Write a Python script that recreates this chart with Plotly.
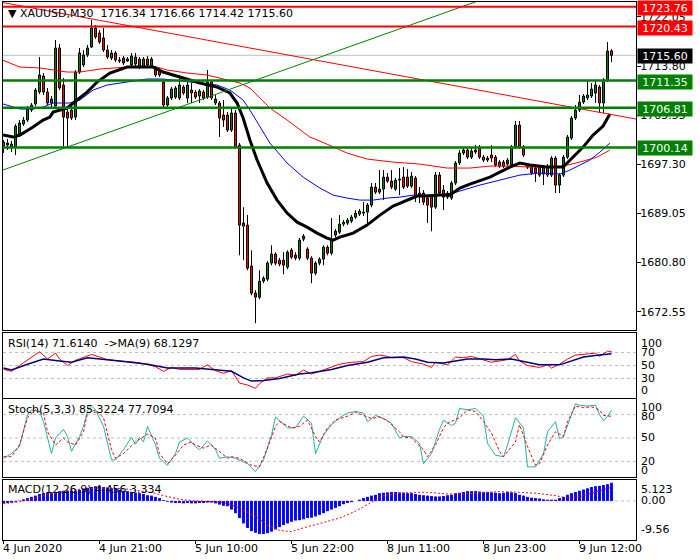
import plotly.graph_objects as go

# ---------------- data ----------------
opens = [1700.36,1700.87,1700.70,1700.19,1702.21,1704.06,1704.73,1706.41,1707.42,1709.43,
1712.12,1709.43,1707.59,1707.08,1716.83,1710.61,1706.07,1706.41,1705.23,1712.79,
1713.97,1715.65,1716.99,1720.19,1719.35,1718.51,1716.49,1715.15,1715.99,1714.81,
1715.15,1714.64,1713.97,1714.14,1714.98,1713.80,1714.98,1713.80,1713.47,1713.13,
1711.11,1707.25,1708.43,1708.59,1708.43,1710.27,1708.43,1709.77,1709.43,1708.76,
1709.43,1708.59,1711.11,1707.59,1707.59,1705.57,1705.57,1703.05,1705.91,1700.53,
1687.43,1687.09,1680.20,1675.67,1674.99,1677.68,1678.02,1680.71,1682.22,1681.21,
1681.21,1680.03,1682.89,1682.05,1681.55,1684.74,1683.06,1681.55,1679.03,1680.71,
1681.38,1683.39,1682.39,1685.41,1685.91,1687.26,1687.43,1687.76,1688.43,1688.94,
1689.11,1689.27,1690.45,1693.47,1692.63,1693.14,1695.15,1694.48,1693.14,1694.65,
1695.15,1695.15,1693.64,1694.99,1692.13,1692.47,1691.63,1691.96,1690.11,1695.49,
1692.97,1691.79,1691.63,1694.15,1697.51,1699.19,1699.69,1698.51,1699.35,1700.19,
1698.51,1698.35,1698.85,1698.51,1697.67,1697.67,1697.34,1697.17,1700.19,1703.89,
1700.19,1697.17,1697.00,1696.67,1696.83,1695.66,1697.00,1695.49,1698.35,1693.81,
1695.49,1698.51,1701.71,1705.07,1706.41,1707.75,1708.43,1708.76,1709.27,1710.27,
1707.59,1711.45,1716.34]
highs = [1701.37,1701.54,1701.20,1704.06,1704.73,1705.23,1707.08,1707.59,1710.11,1715.31,
1712.63,1710.11,1708.76,1718.17,1717.50,1711.79,1707.08,1707.08,1713.13,1716.83,
1716.49,1717.33,1721.53,1720.69,1719.85,1720.19,1717.33,1716.49,1716.32,1715.31,
1715.48,1715.31,1715.99,1715.99,1715.31,1715.31,1715.48,1715.31,1713.80,1713.47,
1711.45,1708.76,1710.27,1710.44,1712.29,1710.61,1711.11,1710.95,1709.77,1709.94,
1709.77,1713.13,1711.45,1708.93,1707.92,1708.09,1706.07,1706.91,1706.41,1700.87,
1690.11,1688.77,1682.89,1676.17,1679.53,1678.52,1681.04,1683.73,1682.55,1681.55,
1682.55,1682.89,1683.23,1682.55,1684.91,1685.58,1683.39,1681.88,1681.04,1681.71,
1683.73,1683.73,1688.27,1686.42,1688.77,1687.93,1688.27,1688.77,1689.61,1689.78,
1690.95,1690.79,1694.15,1694.15,1696.33,1696.33,1695.83,1696.33,1694.99,1696.67,
1696.83,1696.50,1695.99,1695.32,1693.47,1692.97,1691.96,1692.30,1695.99,1695.99,
1693.81,1692.80,1694.48,1697.84,1699.69,1700.03,1700.19,1700.03,1700.53,1700.53,
1698.85,1698.68,1700.53,1698.85,1698.01,1698.01,1698.35,1700.53,1704.56,1704.56,
1700.53,1697.51,1697.34,1697.00,1697.17,1697.17,1697.34,1698.68,1698.68,1695.83,
1698.85,1702.21,1705.40,1707.25,1708.93,1709.10,1711.45,1710.95,1711.45,1710.61,
1711.79,1717.83,1716.66]
lows = [1699.19,1699.69,1699.35,1698.85,1701.87,1703.72,1704.39,1706.07,1707.08,1709.10,
1708.93,1707.25,1706.75,1706.75,1709.77,1700.19,1700.19,1704.73,1704.73,1712.46,
1713.63,1715.31,1716.83,1718.34,1717.50,1716.15,1714.98,1714.81,1714.47,1714.31,
1713.97,1714.47,1713.80,1713.80,1713.30,1713.47,1713.63,1713.47,1711.95,1711.95,
1706.91,1706.91,1708.09,1708.26,1708.09,1708.93,1707.59,1707.59,1708.26,1707.59,
1708.09,1708.26,1708.09,1707.25,1701.87,1703.55,1702.71,1702.71,1699.86,1682.05,
1681.21,1679.53,1675.33,1670.63,1674.66,1677.35,1677.68,1680.37,1680.37,1680.20,
1678.86,1679.70,1681.38,1681.21,1681.21,1684.40,1681.21,1677.35,1678.69,1680.37,
1680.37,1682.05,1682.05,1685.07,1685.58,1686.92,1687.09,1687.43,1688.10,1688.60,
1688.60,1686.92,1690.11,1692.30,1692.30,1691.29,1694.15,1693.14,1692.80,1692.13,
1693.14,1693.31,1693.31,1690.95,1690.79,1690.45,1687.43,1686.08,1689.78,1692.13,
1689.61,1691.46,1691.29,1693.81,1697.17,1698.85,1698.18,1698.18,1699.02,1698.18,
1697.67,1697.67,1697.67,1696.83,1696.67,1696.67,1697.00,1696.83,1699.86,1699.86,
1698.51,1696.50,1695.49,1694.31,1695.15,1693.81,1695.15,1695.15,1692.47,1692.47,
1695.15,1698.18,1701.37,1704.73,1706.07,1707.42,1708.09,1708.43,1707.59,1705.91,
1705.91,1711.11,1714.42]
closes = [1701.03,1700.53,1700.19,1703.72,1704.23,1704.73,1706.75,1707.25,1709.77,1712.29,
1709.43,1707.59,1708.26,1716.83,1710.11,1705.23,1705.07,1705.07,1712.79,1715.99,
1715.65,1716.83,1720.19,1718.67,1717.83,1716.49,1715.31,1715.99,1714.81,1714.64,
1714.31,1714.98,1715.48,1715.31,1713.63,1714.98,1713.97,1714.98,1712.29,1712.29,
1707.25,1708.43,1709.94,1710.11,1710.61,1709.27,1710.61,1709.27,1708.59,1709.60,
1708.43,1711.11,1708.43,1708.26,1705.07,1704.73,1703.05,1705.91,1700.19,1687.09,
1686.92,1679.87,1675.67,1674.99,1677.68,1678.19,1680.71,1682.22,1680.71,1680.54,
1680.37,1682.55,1681.71,1681.55,1684.57,1685.24,1681.55,1679.03,1680.71,1681.38,
1683.39,1682.39,1684.57,1686.08,1687.26,1687.59,1687.93,1688.43,1689.11,1689.44,
1689.27,1690.45,1693.47,1692.63,1693.14,1695.15,1694.48,1693.47,1694.65,1694.82,
1693.47,1693.64,1695.32,1691.79,1692.47,1690.95,1690.45,1690.11,1695.49,1692.47,
1691.79,1692.47,1694.15,1697.51,1699.19,1699.69,1698.51,1699.52,1699.69,1698.51,
1698.01,1698.01,1698.35,1697.17,1697.00,1697.00,1698.01,1700.19,1703.89,1700.19,
1698.85,1696.83,1695.83,1695.83,1695.49,1696.83,1695.49,1698.35,1693.81,1695.49,
1698.51,1701.87,1705.07,1706.41,1707.75,1708.76,1708.93,1709.94,1710.61,1707.59,
1711.45,1716.32,1715.60]

time_tick_bars = [0, 24, 48, 72, 96, 120, 144]
time_tick_labels = ["4 Jun 2020", "4 Jun 21:00", "5 Jun 10:00", "5 Jun 22:00",
                    "8 Jun 11:00", "8 Jun 23:00", "9 Jun 12:00"]
price_ticks = [1672.55, 1680.80, 1689.05, 1697.30, 1705.55, 1713.80, 1722.05]

ma_black_x = [-0.1,2.4,4.1,7.4,9.9,11.6,12.4,15.9,18.4,20.9,23.4,26.6,30.9,37.4,39.9,44.1,49.1,53.4,56.6,
              58.4,59.9,61.6,63.4,65.9,68.4,70.9,73.4,75.9,78.4,80.9,82.4,84.1,87.4,90.9,94.1,97.4,100.9,
              103.4,105.9,109.1,111.6,114.1,116.6,121.6,126.6,129.1,131.6,135.9,139.9,142.4,144.9,147.4,149.9,151.6]
ma_black_y = [1702.21,1701.87,1702.21,1703.55,1704.73,1705.23,1706.07,1706.75,1708.09,1709.43,1711.11,1712.63,
              1713.63,1713.63,1712.79,1711.95,1710.95,1710.27,1709.27,
              1707.59,1705.07,1701.37,1698.01,1694.15,1691.29,1689.11,1687.59,1686.75,1685.75,1684.91,1684.57,
              1685.07,1685.75,1687.09,1688.77,1690.28,1691.29,1691.96,1691.96,1692.13,1692.13,1693.31,1693.98,
              1695.15,1696.83,1697.51,1697.17,1696.83,1696.83,1698.51,1700.19,1702.21,1703.72,1705.74]
ma_blue_x = [-0.9,0.9,4.1,7.4,9.9,12.4,16.6,19.1,22.4,25.9,30.9,35.9,39.9,44.1,49.1,53.4,56.6,59.9,61.6,
             64.1,66.6,70.9,74.9,79.1,82.4,85.9,89.1,92.4,95.9,99.1,102.4,105.9,109.1,112.4,116.6,119.1,
             124.1,129.1,134.1,139.1,141.6,146.6,149.1,151.6]
ma_blue_y = [1707.59,1707.25,1706.58,1706.58,1706.91,1707.59,1707.59,1708.09,1709.77,1710.61,1711.11,1711.62,
             1711.62,1711.28,1710.95,1710.61,1709.77,1708.09,1706.41,1703.55,1700.87,1697.51,1695.15,1693.31,
             1692.13,1691.63,1691.29,1691.29,1691.63,1691.79,1692.13,1692.13,1692.13,1692.47,1693.31,1693.81,
             1694.65,1695.49,1695.83,1695.66,1696.33,1698.01,1699.35,1700.87]
ma_red_x = [-0.9,1.6,4.1,9.1,15.9,19.1,24.1,30.9,38.4,40.9,45.9,50.9,55.9,59.1,61.6,64.1,66.6,70.9,76.6,
            79.1,85.9,90.9,97.4,104.1,110.9,116.6,121.6,126.6,131.6,136.6,139.9,144.1,148.4,151.6]
ma_red_y = [1714.98,1714.31,1713.63,1713.47,1712.79,1712.79,1713.30,1713.63,1713.63,1713.13,1712.63,1712.29,
            1711.45,1710.95,1710.11,1708.43,1706.75,1704.73,1701.87,1701.20,1699.19,1698.18,1697.67,1697.34,
            1696.67,1696.67,1697.00,1697.00,1696.83,1696.83,1697.00,1697.67,1698.51,1699.69]

resist_levels = [1723.76, 1720.43]
support_levels = [1711.35, 1706.81, 1700.14]
bid_price = 1715.60
trend_red_x = [-0.25, 158.1]
trend_red_y = [1724.47, 1704.90]
trend_green_x = [-0.125, 121.0]
trend_green_y = [1696.35, 1725.29]

rsi_x = [0,2,4,6,9,11,13,14,16,18,20,22,24,26,29,33,36,38,40,42,44,47,49,51,53,55,57,59,61,63,64,66,68,71,73,
         75,77,79,82,84,87,90,92,94,96,97,100,102,105,107,108,111,113,115,117,120,122,124,126,128,129,131,134,
         136,137,139,141,143,145,148,149,151,152]
rsi_v = [44,41,50,58,71,60,69,60,50,58,63,67,63,59,57,55,52,48,41,47,44,44,44,51,42,38,42,23,20,15,22,31,31,37,35,
         43,37,41,47,52,55,56,64,66,64,62,62,56,52,47,55,51,63,62,64,59,55,57,59,67,57,50,47,51,46,52,60,66,67,69,
         64,72,71.61]
rsi_ma_x = [0,2,6,10,14,17,21,25,29,36,41,48,54,57,60,62,65,69,74,77,82,86,91,95,100,103,106,110,113,116,120,
            123,127,131,134,139,142,145,149,152]
rsi_ma_v = [46,43,52,60,57,55,62,60,57,52,46,46,43,41,31,26,27,30,37,39,44,50,55,62,63,60,55,54,57,60,60,59,60,
            55,51,51,57,63,66,68.13]

stoch_x = [0,2,4,5,6,7,9,10,12,13,15,16,17,19,20,21,22,23,25,27,28,30,32,33,34,35,36,38,39,41,43,44,46,48,49,
           51,53,54,56,58,59,61,63,65,67,68,71,73,75,77,78,80,82,84,86,88,90,91,93,95,97,99,100,102,104,105,107,
           109,110,112,113,114,116,118,120,121,123,125,126,128,130,131,133,135,136,138,139,140,143,144,146,148,
           149,150,151,152]
stoch_v = [24,30,39,58,80,86,84,71,30,50,61,52,33,52,65,85,91,86,65,22,22,35,51,42,51,45,65,41,24,15,30,45,50,
           39,35,46,35,24,26,24,22,17,7,22,54,77,63,63,78,69,30,54,67,76,82,84,82,71,79,75,69,50,52,52,43,17,30,
           61,73,66,69,88,86,88,78,43,28,26,41,76,63,13,13,30,58,71,49,52,94,92,91,92,80,72,78,85.32]
stoch_sig_x = [0,2,4,6,8,10,11,13,15,16,18,20,21,23,25,27,28,30,33,34,36,38,39,41,43,45,47,48,50,52,54,56,57,
               59,62,64,66,68,69,72,74,76,78,79,81,83,86,88,90,92,94,96,99,100,102,105,106,108,110,111,114,116,
               118,120,122,124,125,128,129,131,133,134,136,138,140,141,143,145,147,149,150,152]
stoch_sig_v = [26,26,41,76,86,82,58,41,50,45,41,58,82,86,76,35,24,30,45,48,55,50,30,17,28,41,45,41,37,41,33,24,
               26,24,15,13,37,65,71,63,65,73,52,45,63,73,78,83,79,75,77,72,58,51,50,35,26,41,63,69,76,86,84,71,
               56,33,26,45,67,39,15,17,41,58,52,71,91,89,90,86,79,77.71]

macd_hist = [-0.6,-0.5,-0.4,-0.2,0.1,0.4,
             0.7,1.0,1.3,1.7,
             1.9,2.0,2.1,2.2,2.4,2.5,2.5,2.5,2.5,2.7,3.0,
             3.2,3.4,3.6,3.6,3.4,3.2,3.1,3.0,2.7,2.5,
             2.4,2.2,2.0,1.9,1.7,1.4,1.3,1.0,0.7,0.2,
             -0.2,-0.4,-0.5,-0.5,-0.6,-0.5,-0.6,-0.6,-0.5,-0.5,-0.4,-0.4,-0.6,-0.9,-1.2,
             -1.3,-2.1,-3.0,-4.2,-5.5,
             -6.6,-7.4,-7.8,-8.1,-8.1,-7.9,
             -7.5,-7.0,-6.4,-5.9,-5.5,-5.1,-4.8,-4.7,-4.5,
             -4.2,-4.1,-3.8,-3.4,-3.0,-2.5,-2.1,-1.7,-1.3,-0.8,
             -0.5,-0.3,0.0,0.3,0.7,
             1.0,1.3,1.5,1.9,2.0,2.1,2.2,2.2,2.1,2.0,
             1.9,1.9,1.7,1.5,1.4,1.3,1.2,1.1,1.1,1.2,
             1.4,1.5,1.9,2.0,2.2,2.4,2.4,2.4,2.3,2.2,
             2.2,2.1,2.0,1.9,2.0,2.2,2.1,1.9,1.5,1.3,
             1.0,0.8,0.7,0.6,0.4,0.3,0.3,0.3,
             0.7,1.0,1.5,1.9,2.2,2.5,2.8,3.1,3.4,3.6,3.7,3.9,4.1,4.456]
macd_sig_x = [0,4,7,10,14,17,21,26,30,34,37,40,44,48,53,56,59,63,66,69,72,75,79,84,88,92,95,99,102,106,111,115,
              120,124,129,133,138,141,144,148,152]
macd_sig_v = [-0.7,-0.2,0.4,1.3,2.1,2.7,3.0,3.2,3.0,2.5,2.1,1.3,0.4,0.0,-0.2,-0.6,-1.7,-3.8,-5.9,-7.2,-7.5,-6.6,
              -5.5,-4.2,-2.5,-0.4,1.3,1.9,2.1,2.1,1.7,1.7,2.1,2.3,2.1,1.9,1.3,0.7,1.0,2.1,3.334]

# ---------------- geometry helpers ----------------
W, H = 700, 560
ML, MR, MT, MB = 3, 64, 2, 20
PW, PH = W - ML - MR, H - MT - MB


def fy(py):
    return (H - MB - py) / PH


def fx(px):
    return (px - ML) / PW


X_RANGE = [-0.125, 158.125]
FONT = "DejaVu Sans"
BULL, BEAR = "#008000", "#FF0000"

idx = list(range(len(opens)))
wick_len = [h - l for h, l in zip(highs, lows)]
body_base = [min(o, c) for o, c in zip(opens, closes)]
body_len = [max(abs(c - o), 0.1) for o, c in zip(opens, closes)]
body_col = [BULL if c >= o else BEAR for o, c in zip(opens, closes)]

fig = go.Figure()
fig.add_trace(go.Bar(x=idx, y=wick_len, base=lows, width=0.25,
                     marker=dict(color="black", line=dict(width=0)), hoverinfo="skip"))
fig.add_trace(go.Bar(x=idx, y=body_len, base=body_base, width=0.5,
                     marker=dict(color=body_col, line=dict(color="black", width=1)), hoverinfo="skip"))
fig.add_trace(go.Scatter(x=ma_red_x, y=ma_red_y, mode="lines", line=dict(color="#FF0000", width=1)))
fig.add_trace(go.Scatter(x=ma_blue_x, y=ma_blue_y, mode="lines", line=dict(color="#0000FF", width=1)))
fig.add_trace(go.Scatter(x=ma_black_x, y=ma_black_y, mode="lines", line=dict(color="black", width=3)))
fig.add_trace(go.Scatter(x=trend_red_x, y=trend_red_y, mode="lines", line=dict(color="#FF0000", width=1)))
fig.add_trace(go.Scatter(x=trend_green_x, y=trend_green_y, mode="lines", line=dict(color="#008000", width=1)))

fig.add_trace(go.Scatter(x=rsi_x, y=rsi_v, mode="lines", line=dict(color="#FF0000", width=1),
                         xaxis="x2", yaxis="y2"))
fig.add_trace(go.Scatter(x=rsi_ma_x, y=rsi_ma_v, mode="lines", line=dict(color="#000080", width=1.5),
                         xaxis="x2", yaxis="y2"))
fig.add_trace(go.Scatter(x=stoch_x, y=stoch_v, mode="lines", line=dict(color="#20B2AA", width=1),
                         xaxis="x3", yaxis="y3"))
fig.add_trace(go.Scatter(x=stoch_sig_x, y=stoch_sig_v, mode="lines",
                         line=dict(color="#FF0000", width=1, dash="3px,2px"), xaxis="x3", yaxis="y3"))
fig.add_trace(go.Bar(x=idx, y=macd_hist, width=0.72, marker=dict(color="#0000FF", line=dict(width=0)),
                     xaxis="x4", yaxis="y4"))
fig.add_trace(go.Scatter(x=macd_sig_x, y=macd_sig_v, mode="lines",
                         line=dict(color="#FF0000", width=1, dash="2px,2px"), xaxis="x4", yaxis="y4"))

common_x = dict(range=X_RANGE, showgrid=False, zeroline=False, showline=True, mirror=True,
                linecolor="black", linewidth=1, showticklabels=False, ticks="")
common_y = dict(showgrid=False, zeroline=False, showline=True, mirror=True, linecolor="black",
                linewidth=1, showticklabels=False, ticks="")

shapes = []
for v in resist_levels:
    shapes.append(dict(type="line", xref="x domain", yref="y", x0=0, x1=1, y0=v, y1=v,
                       line=dict(color="#FF0000", width=2), layer="above"))
shapes.append(dict(type="line", xref="x domain", yref="y", x0=0, x1=1, y0=bid_price, y1=bid_price,
                   line=dict(color="#C0C0C0", width=1), layer="below"))
for v in support_levels:
    shapes.append(dict(type="line", xref="x domain", yref="y", x0=0, x1=1, y0=v, y1=v,
                       line=dict(color="#008000", width=2.5), layer="above"))
for ax, lv in (("2", [70, 50, 30]), ("3", [80, 50, 20]), ("4", [0])):
    for v in lv:
        shapes.append(dict(type="line", xref="x%s domain" % ax, yref="y" + ax, x0=0, x1=1, y0=v, y1=v,
                           line=dict(color="#BEBEBE", width=1, dash="3px,3px"), layer="below"))

ann = []
box_specs = [(1723.76, "#FF0000"), (1720.43, "#FF0000"), (bid_price, "#000000"),
             (1711.35, "#008000"), (1706.81, "#008000"), (1700.14, "#008000")]
for v, col in box_specs:
    ann.append(dict(xref="paper", yref="y", x=fx(637), y=v, xanchor="left", yanchor="middle",
                    text="%.2f" % v, showarrow=False, bgcolor=col, borderpad=2, width=50, height=10,
                    font=dict(family=FONT, size=11, color="white"), yshift=-1))
titles = [(13, "\u25BC XAUUSD,M30\u00a0\u00a01716.34 1716.66 1714.42 1715.60"),
          (344, "RSI(14) 71.6140\u00a0\u00a0->MA(9) 68.1297"),
          (409, "Stoch(5,3,3) 85.3224 77.7094"),
          (489, "MACD(12,26,9) 4.456 3.334")]
for py, t in titles:
    ann.append(dict(xref="paper", yref="paper", x=fx(6), y=fy(py), xanchor="left", yanchor="middle",
                    text=t, showarrow=False, font=dict(family=FONT, size=11, color="black")))
scale_labels = [(343, "100"), (353, "70"), (365, "50"), (378, "30"), (390, "0"),
                (407, "100"), (416, "80"), (438, "50"), (461, "20"), (470, "0"),
                (489, "5.123"), (500, "0.00"), (529, "-9.56")]
for py, t in scale_labels:
    ann.append(dict(xref="paper", yref="paper", x=fx(639), y=fy(py), xanchor="left", yanchor="middle",
                    text=t, showarrow=False, font=dict(family=FONT, size=11, color="black")))
for b, t in zip(time_tick_bars, time_tick_labels):
    ann.append(dict(xref="x4", yref="paper", x=b, y=fy(548), xanchor="left", yanchor="middle",
                    text=t, showarrow=False, xshift=-3, font=dict(family=FONT, size=11, color="black")))

fig.update_layout(
    width=W, height=H, margin=dict(l=ML, r=MR, t=MT, b=MB),
    paper_bgcolor="white", plot_bgcolor="white", showlegend=False, barmode="overlay",
    font=dict(family=FONT, size=11, color="black"),
    xaxis=dict(**common_x, anchor="y"),
    xaxis2=dict(**common_x, anchor="y2", matches="x"),
    xaxis3=dict(**common_x, anchor="y3", matches="x"),
    xaxis4=dict(range=X_RANGE, showgrid=False, zeroline=False, showline=True, mirror=True,
                linecolor="black", linewidth=1, showticklabels=False, ticks="outside", ticklen=3,
                tickcolor="black", tickvals=time_tick_bars, anchor="y4", matches="x"),
    yaxis=dict(domain=[fy(330), 1], range=[1669.48, 1724.55], side="right", tickvals=price_ticks,
               ticktext=["%.2f" % v for v in price_ticks], ticks="outside", ticklen=4, tickcolor="black",
               ticklabelstandoff=-3,
               showline=True, mirror=True, linecolor="black", linewidth=1, showgrid=False, zeroline=False,
               tickfont=dict(family=FONT, size=11, color="black"), anchor="x"),
    yaxis2=dict(**common_y, domain=[fy(398), fy(333)], range=[0, 100], anchor="x2"),
    yaxis3=dict(**common_y, domain=[fy(477), fy(399)], range=[0, 100], anchor="x3"),
    yaxis4=dict(**common_y, domain=[0, fy(480)], range=[-9.56, 5.123], anchor="x4"),
    shapes=shapes, annotations=ann,
)

fig.write_html("out.html", config={"displayModeBar": False, "staticPlot": True},
               post_script="document.body.style.margin='0';document.body.style.overflow='hidden';")
